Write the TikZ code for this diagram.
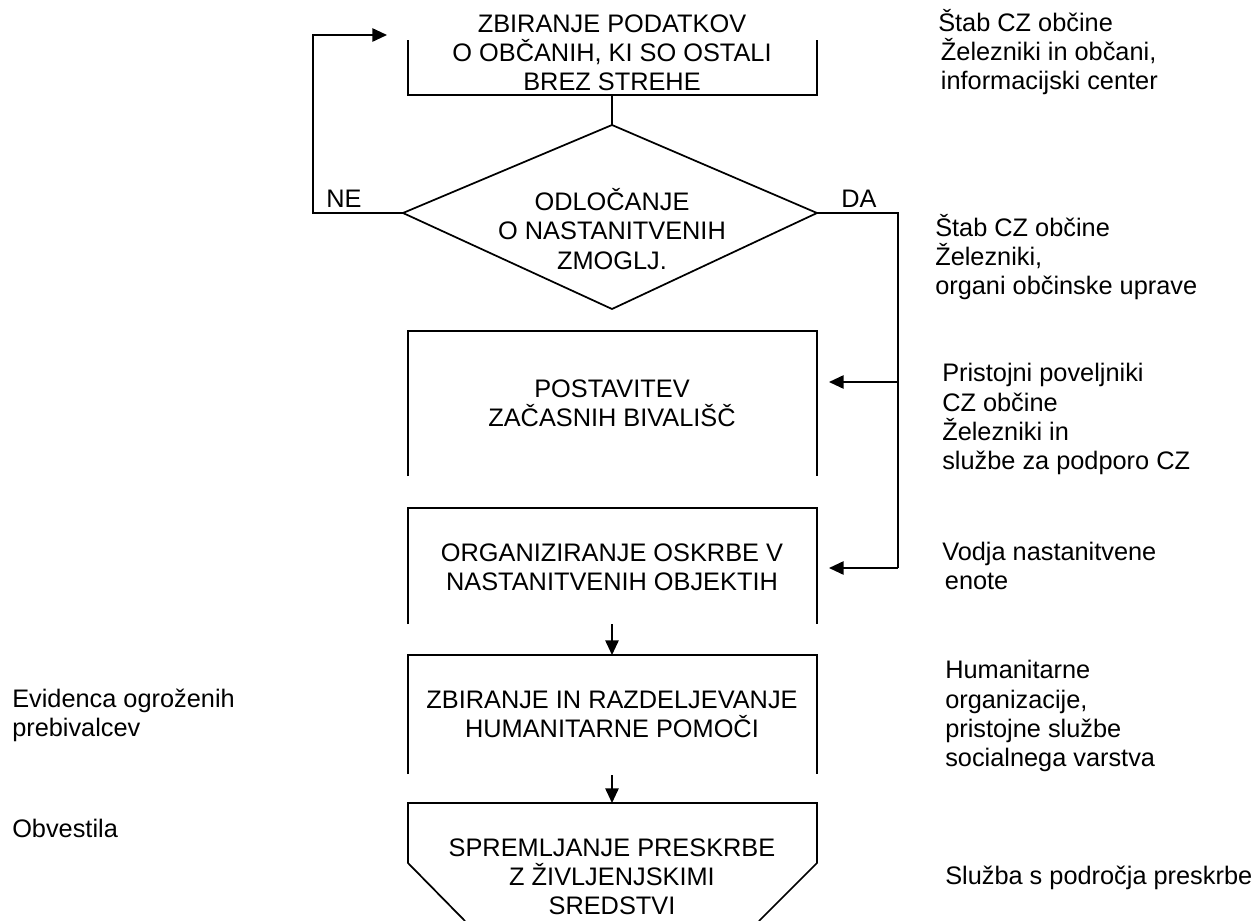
\documentclass[tikz,border=0pt]{standalone}
\usepackage{fontspec}
\setmainfont{Liberation Sans}
\usetikzlibrary{arrows.meta}
\begin{document}
\begin{tikzpicture}[x=0.75pt,y=-0.75pt,
  ln/.style={line width=1.3pt},
  arr/.style={ln,-{Triangle[length=11pt,width=10pt]}},
  lbl/.style={font=\fontsize{19}{21.8}\selectfont, inner sep=0pt, align=center},
  side/.style={lbl, align=left, anchor=west}]
\useasboundingbox (0,0) rectangle (1254,921);
% box 1
\coordinate (b1tl) at (408,40);
\coordinate (b1bl) at (408,95);
\coordinate (b1br) at (817,95);
\coordinate (b1tr) at (817,40);
\coordinate (b1s) at (612,95);
\node[lbl] (t1) at (612,53) {ZBIRANJE PODATKOV\\O OBČANIH, KI SO OSTALI\\BREZ STREHE};
\draw[ln] (b1tl) -- (b1bl) -- (b1br) -- (b1tr);
% diamond
\coordinate (dt) at (612,125);
\coordinate (dl) at (403,213);
\coordinate (dr) at (817,213);
\coordinate (db) at (612,309);
\draw[ln] (dt) -- (dr) -- (db) -- (dl) -- cycle;
\node[lbl] (t2) at (612,229) {ODLOČANJE\\O NASTANITVENIH\\ZMOGLJ.};
\draw[ln] (b1s) -- (dt);
% NE loop
\coordinate (ne1) at (313,213);
\coordinate (ne2) at (313,35);
\coordinate (ne3) at (387,35);
\draw[arr] (dl) -- (ne1) -- (ne2) -- (ne3);
\node[lbl] (ne) at (344,199) {NE};
% DA branch
\coordinate (da1) at (898,213);
\coordinate (da2) at (898,382);
\coordinate (da3) at (898,568);
\node[lbl] (da) at (859,199) {DA};
% box 2
\coordinate (b2a) at (408,476);
\coordinate (b2b) at (408,331);
\coordinate (b2c) at (817,331);
\coordinate (b2d) at (817,476);
\draw[ln] (b2a) -- (b2b) -- (b2c) -- (b2d);
\node[lbl] (t3) at (612,403) {POSTAVITEV\\ZAČASNIH BIVALIŠČ};
\coordinate (b2in) at (829,382);
% box 3
\coordinate (b3a) at (408,624);
\coordinate (b3b) at (408,508);
\coordinate (b3c) at (817,508);
\coordinate (b3d) at (817,624);
\draw[ln] (b3a) -- (b3b) -- (b3c) -- (b3d);
\node[lbl] (t4) at (612,567) {ORGANIZIRANJE OSKRBE V\\NASTANITVENIH OBJEKTIH};
\coordinate (b3in) at (829,568);
\coordinate (b3s) at (612,624);
\draw[ln] (dr) -- (da1) -- (da3);
\draw[arr] (da2) -- (b2in);
\draw[arr] (da3) -- (b3in);
% box 4
\coordinate (b4a) at (408,774);
\coordinate (b4b) at (408,655);
\coordinate (b4c) at (817,655);
\coordinate (b4d) at (817,774);
\coordinate (b4n) at (612,655);
\coordinate (b4s) at (612,775);
\draw[ln] (b4a) -- (b4b) -- (b4c) -- (b4d);
\node[lbl] (t5) at (612,714) {ZBIRANJE IN RAZDELJEVANJE\\HUMANITARNE POMOČI};
\draw[arr] (b3s) -- (b4n);
% box 5
\coordinate (b5a) at (465,921);
\coordinate (b5b) at (408,863);
\coordinate (b5c) at (408,803);
\coordinate (b5d) at (817,803);
\coordinate (b5e) at (817,863);
\coordinate (b5f) at (759,921);
\coordinate (b5n) at (612,803);
\draw[ln] (b5a) -- (b5b) -- (b5c) -- (b5d) -- (b5e) -- (b5f);
\node[lbl] (t6) at (612,877) {SPREMLJANJE PRESKRBE\\Z ŽIVLJENJSKIMI\\SREDSTVI};
\draw[arr] (b4s) -- (b5n);
% side texts right
\node[side] (r1) at (938,52) {Štab CZ občine\\\hspace*{2pt}Železniki in občani,\\\hspace*{2pt}informacijski center};
\node[side] (r2) at (935,257) {Štab CZ občine\\Železniki,\\organi občinske uprave};
\node[side] (r3) at (942,419) {Pristojni poveljniki\\CZ občine\\Železniki in\\službe za podporo CZ};
\node[side] (r4) at (942,566) {Vodja nastanitvene\\\hspace*{2pt}enote};
\node[side] (r5) at (945,716) {Humanitarne\\organizacije,\\pristojne službe\\socialnega varstva};
\node[side] (r6) at (945,878) {Služba s področja preskrbe};
% side texts left
\node[side] (l1) at (12,715) {Evidenca ogroženih\\prebivalcev};
\node[side] (l2) at (12,828) {Obvestila};
\end{tikzpicture}
\end{document}
